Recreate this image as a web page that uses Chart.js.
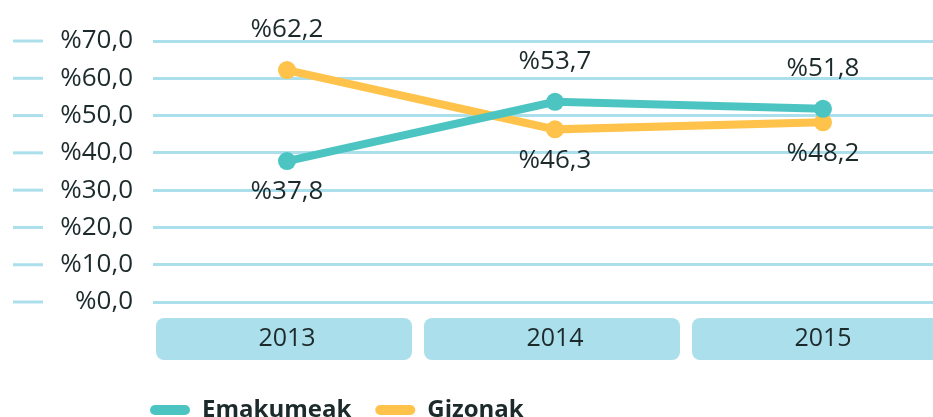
<!DOCTYPE html>
<html>
<head>
<meta charset="utf-8">
<script src="https://cdn.jsdelivr.net/npm/chart.js@4.4.0/dist/chart.umd.min.js"></script>
<style>
  html, body { margin: 0; padding: 0; background: #fff; overflow: hidden; }
  #wrap { width: 933px; height: 417px; overflow: hidden; position: relative; }
</style>
</head>
<body>
<div id="wrap"><canvas id="c" width="966" height="417"></canvas></div>
<script>
// data
const years = ['2013', '2014', '2015'];
const emakumeak = [37.8, 53.7, 51.8];
const gizonak = [62.2, 46.3, 48.2];
const yMin = 0, yMax = 70, yStep = 10;

const TEAL = '#4cc5c2';
const YELLOW = '#ffc34b';
const GRID = '#acdfec';
const TEXT = '#1c2a2b';
const FONT = '"Open Sans", sans-serif';

function pct(v) {
  return '%' + v.toFixed(1).replace('.', ',');
}

// rounded boxes behind the year labels
const yearBoxes = {
  id: 'yearBoxes',
  beforeDraw(chart) {
    const x = chart.scales.x;
    const ctx = chart.ctx;
    ctx.save();
    ctx.fillStyle = GRID;
    x.ticks.forEach((t, i) => {
      const cx = x.getPixelForTick(i);
      ctx.beginPath();
      ctx.roundRect(cx - 131, 318, 256, 42, 8);
      ctx.fill();
    });
    ctx.restore();
  }
};

// short dashes at far left of each y tick
const leftDashes = {
  id: 'leftDashes',
  beforeDraw(chart) {
    const y = chart.scales.y;
    const ctx = chart.ctx;
    ctx.save();
    ctx.strokeStyle = GRID;
    ctx.lineWidth = 3;
    y.ticks.forEach((t, i) => {
      const py = y.getPixelForTick(i);
      ctx.beginPath();
      ctx.moveTo(13, py);
      ctx.lineTo(43, py);
      ctx.stroke();
    });
    ctx.restore();
  }
};

// push the legend to the right, under the plot
const legendShift = {
  id: 'legendShift',
  afterLayout(chart) {
    chart.legend.left += 126;
  }
};

// value labels: higher series above the point, lower one below
const valueLabels = {
  id: 'valueLabels',
  afterDatasetsDraw(chart) {
    const ctx = chart.ctx;
    const sets = chart.data.datasets;
    ctx.save();
    ctx.font = '26px ' + FONT;
    ctx.fillStyle = TEXT;
    ctx.textAlign = 'center';
    ctx.textBaseline = 'middle';
    sets.forEach((ds, di) => {
      const other = sets[1 - di];
      chart.getDatasetMeta(di).data.forEach((pt, i) => {
        const above = ds.data[i] >= other.data[i];
        const dy = above ? -40 : 31;
        ctx.fillText(pct(ds.data[i]), pt.x, pt.y + dy);
      });
    });
    ctx.restore();
  }
};

new Chart(document.getElementById('c'), {
  type: 'line',
  data: {
    labels: years,
    datasets: [
      {
        label: 'Emakumeak',
        data: emakumeak,
        borderColor: TEAL,
        backgroundColor: TEAL,
        borderWidth: 8,
        pointRadius: 9,
        pointBorderWidth: 0,
        pointBackgroundColor: TEAL
      },
      {
        label: 'Gizonak',
        data: gizonak,
        borderColor: YELLOW,
        backgroundColor: YELLOW,
        borderWidth: 8,
        pointRadius: 9,
        pointBorderWidth: 0,
        pointBackgroundColor: YELLOW
      }
    ]
  },
  options: {
    responsive: false,
    animation: false,
    layout: { padding: { top: 41, right: 0, bottom: -15, left: 0 } },
    scales: {
      x: {
        offset: true,
        grid: { display: false, drawTicks: false },
        border: { display: false },
        ticks: {
          color: TEXT,
          font: { family: FONT, size: 25 },
          padding: 22
        },
        afterFit(scale) { scale.height = 72; }
      },
      y: {
        min: yMin,
        max: yMax,
        grid: { color: GRID, lineWidth: 3, drawTicks: false },
        border: { display: false },
        ticks: {
          stepSize: yStep,
          color: TEXT,
          font: { family: FONT, size: 26 },
          padding: 20,
          callback: v => pct(v)
        },
        afterFit(scale) { scale.width = 153; }
      }
    },
    plugins: {
      tooltip: { enabled: false },
      legend: {
        position: 'bottom',
        align: 'start',
        labels: {
          color: TEXT,
          font: { family: FONT, size: 24, weight: 'bold' },
          boxWidth: 40,
          boxHeight: 10,
          useBorderRadius: true,
          borderRadius: 5,
          padding: 24,
          generateLabels(chart) {
            return chart.data.datasets.map((ds, i) => ({
              text: ds.label,
              fillStyle: ds.borderColor,
              strokeStyle: ds.borderColor,
              lineWidth: 0,
              borderRadius: 5,
              datasetIndex: i,
              fontColor: TEXT
            }));
          }
        }
      }
    }
  },
  plugins: [yearBoxes, leftDashes, legendShift, valueLabels]
});
</script>
</body>
</html>
